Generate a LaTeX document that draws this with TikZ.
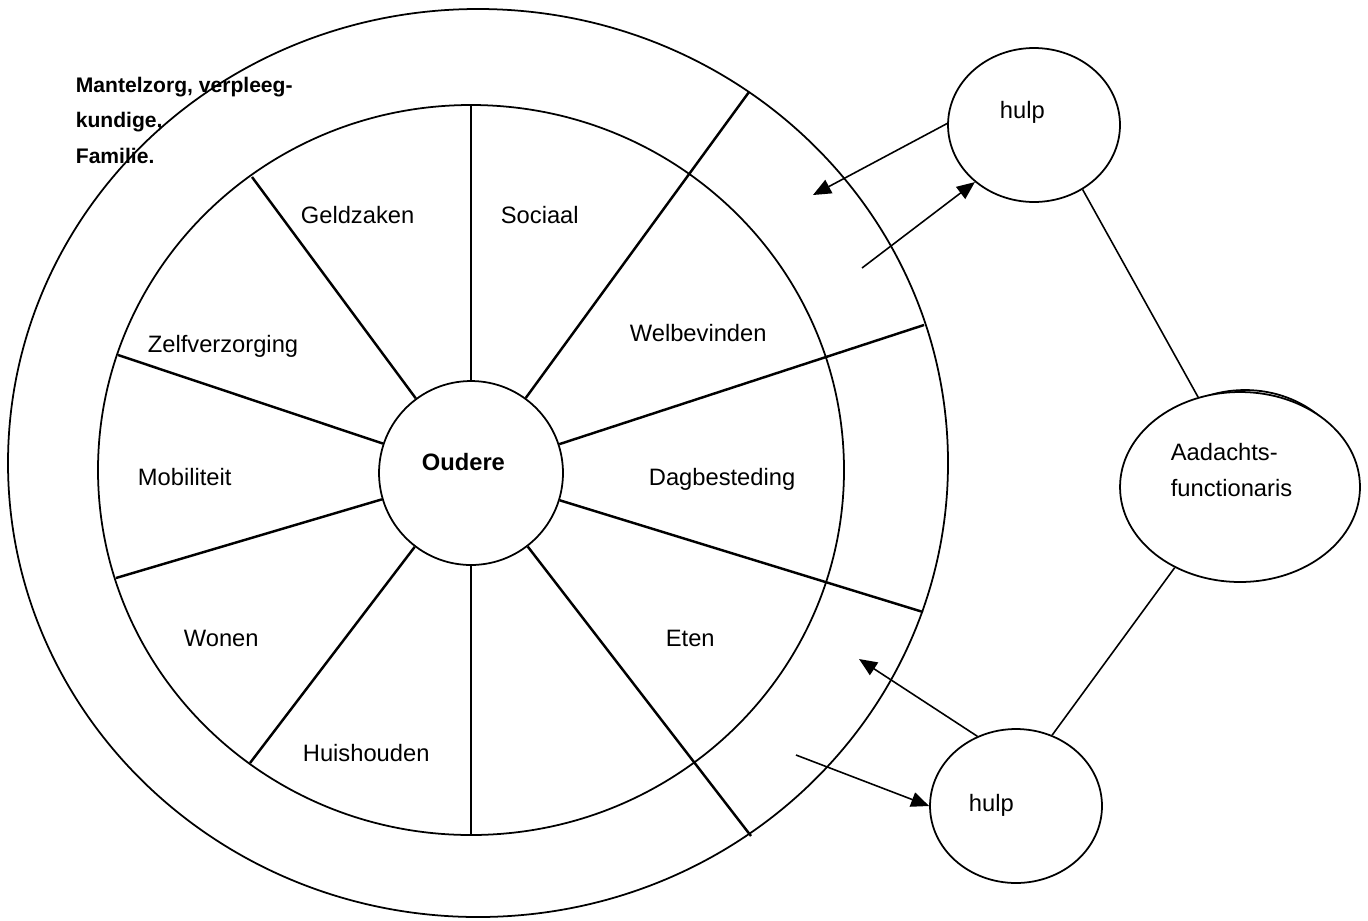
\documentclass[tikz,border=0pt]{standalone}
\usepackage{fontspec}
\setmainfont{Liberation Sans}
\usetikzlibrary{shapes.geometric,arrows.meta}
\begin{document}
\begin{tikzpicture}[x=0.02cm,y=-0.02cm,
  line width=1pt,
  lbl/.style={inner sep=0pt,anchor=base west,font=\fontsize{13.5}{16}\selectfont},
  boldlbl/.style={inner sep=0pt,anchor=base west,font=\bfseries\fontsize{12}{14}\selectfont},
  spoke/.style={line width=1.4pt},
  link/.style={line width=0.9pt},
  arr/.style={link,-{Triangle[length=0.36cm,width=0.3cm]}},
  bubble/.style={draw,ellipse,fill=white,inner sep=0pt,line width=1pt}]
\useasboundingbox (0,0) rectangle (1368,920);

% outer ring and inner wheel
\draw (478,463) ellipse [x radius=470, y radius=454];
\draw (471,470) ellipse [x radius=373, y radius=365];

% centre
\node[draw,circle,minimum size=3.68cm,inner sep=0pt] (hub) at (471,473) {};

% spoke end points
\coordinate (sTop) at (471,106);
\coordinate (sUL)  at (252,177);
\coordinate (sUR)  at (749,92);
\coordinate (sLU)  at (118,355);
\coordinate (sRU)  at (924,325);
\coordinate (sLD)  at (116,578);
\coordinate (sRD)  at (923,612);
\coordinate (sLL)  at (250,763);
\coordinate (sLR)  at (751,836);
\coordinate (sBot) at (471,835);

\foreach \e in {sTop,sUL,sUR,sLU,sRU,sLD,sRD,sLL,sLR,sBot}
  \draw[spoke] (hub) -- (\e);

% sector labels
\node[lbl,font=\bfseries\fontsize{13.5}{16}\selectfont] (oud) at (421,470) {Oudere};
\node[lbl] (geld) at (300,223) {Geldzaken};
\node[lbl] (soc)  at (500,223) {Sociaal};
\node[lbl] (zelf) at (147,352) {Zelfverzorging};
\node[lbl] (welb) at (629,341) {Welbevinden};
\node[lbl] (mob)  at (137,485) {Mobiliteit};
\node[lbl] (dag)  at (648,485) {Dagbesteding};
\node[lbl] (won)  at (183,646) {Wonen};
\node[lbl] (eten) at (665,646) {Eten};
\node[lbl] (huis) at (302,761) {Huishouden};

% outer ring caption
\node[boldlbl] (mz1) at (75,92)  {Mantelzorg, verpleeg-};
\node[boldlbl] (mz2) at (75,127) {kundige,};
\node[boldlbl] (mz3) at (75,163) {Familie.};

% helpers on the right
\node[bubble,minimum width=3.44cm,minimum height=3.08cm] (hulpA) at (1034,125) {};
\node[bubble,minimum width=3.44cm,minimum height=3.08cm] (hulpB) at (1016,806) {};
\node[bubble,minimum width=4.32cm,minimum height=3.8cm] (aadback) at (1245,485) {};
\node[bubble,minimum width=4.8cm,minimum height=3.8cm] (aad) at (1240,487) {};

\node[lbl] (hA) at (999,118) {hulp};
\node[lbl] (hB) at (968,811) {hulp};
\node[lbl] (aad1) at (1170,460) {Aadachts-};
\node[lbl] (aad2) at (1170,496) {functionaris};

% links to the coordinator
\draw[link] (hulpA.-53) -- (aad.115);
\draw[link] (hulpB.63) -- (aad.-129);

% help flows in and out of the ring
\coordinate (inA) at (813,195);
\coordinate (outA) at (862,268);
\coordinate (inB) at (859,659);
\coordinate (outB) at (796,755);
\draw[arr] (hulpA.179) -- (inA);
\draw[arr] (outA) -- (hulpA.-136);
\draw[arr] (hulpB.119) -- (inB);
\draw[arr] (outB) -- (hulpB.180);
\end{tikzpicture}
\end{document}
